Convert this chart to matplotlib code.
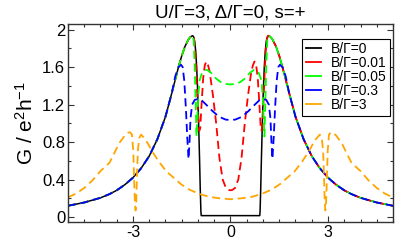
import matplotlib
matplotlib.use("Agg")
import matplotlib.pyplot as plt
from matplotlib.lines import Line2D
from matplotlib import ticker

plt.rcParams['font.family'] = ['Liberation Sans', 'DejaVu Sans']
plt.rcParams['mathtext.fontset'] = 'custom'
plt.rcParams['mathtext.rm'] = 'Liberation Sans'
plt.rcParams['mathtext.it'] = 'Liberation Sans'
plt.rcParams['axes.unicode_minus'] = False

title = "U/Γ=3, Δ/Γ=0, s=+"
labels = ["B/Γ=0", "B/Γ=0.01", "B/Γ=0.05", "B/Γ=0.3", "B/Γ=3"]
colors = ["black", "#ff0000", "#00ff00", "#0000ff", "#ffa500"]

x_b0 = [-5, -4.5, -4, -3.72, -3.5, -3.25, -3, -2.75, -2.5, -2.25, -2, -1.8, -1.6, -1.5, -1.4, -1.3, -1.25, -1.2, -1.16,
        -1.13, -1.1, -1.07, -1.04, -1.01, -0.98, -0.95, -0.93, -0.91, -0.9,
        0.9, 0.91, 0.93, 0.95, 0.98, 1.01, 1.04, 1.07, 1.1, 1.13,
        1.16, 1.2, 1.25, 1.3, 1.4, 1.5, 1.6, 1.8, 2, 2.25, 2.5, 2.75, 3, 3.25, 3.5, 3.72, 4, 4.5, 5]
g_b0 = [0.12, 0.155, 0.205, 0.245, 0.285, 0.345, 0.42, 0.52, 0.65, 0.83, 1.07, 1.33, 1.6, 1.72, 1.82, 1.89, 1.915, 1.93, 1.935,
        1.92, 1.87, 1.77, 1.6, 1.35, 1.0, 0.6, 0.3, 0.06, 0.015,
        0.015, 0.06, 0.3, 0.6, 1.0, 1.35, 1.6, 1.77, 1.87, 1.92,
        1.935, 1.93, 1.915, 1.89, 1.82, 1.72, 1.6, 1.33, 1.07, 0.83, 0.65, 0.52, 0.42, 0.345, 0.285, 0.245, 0.205, 0.155, 0.12]

x_b001 = [-5, -4.5, -4, -3.72, -3.5, -3.25, -3, -2.75, -2.5, -2.25, -2, -1.8, -1.6, -1.5, -1.4, -1.3, -1.25, -1.2, -1.16,
          -1.12, -1.08, -1.04, -1.0, -0.96, -0.93, -0.89, -0.84, -0.79, -0.74, -0.69, -0.64, -0.54, -0.44, -0.34, -0.24, -0.14, -0.06, 0,
          0.06, 0.14, 0.24, 0.34, 0.44, 0.54, 0.64, 0.69, 0.74, 0.79, 0.84, 0.89, 0.93, 0.96, 1.0, 1.04, 1.08, 1.12,
          1.16, 1.2, 1.25, 1.3, 1.4, 1.5, 1.6, 1.8, 2, 2.25, 2.5, 2.75, 3, 3.25, 3.5, 3.72, 4, 4.5, 5]
g_b001 = [0.12, 0.155, 0.205, 0.245, 0.285, 0.345, 0.42, 0.52, 0.65, 0.83, 1.07, 1.33, 1.6, 1.72, 1.82, 1.89, 1.915, 1.93, 1.935,
          1.9, 1.75, 1.45, 1.1, 0.92, 0.95, 1.2, 1.48, 1.62, 1.66, 1.62, 1.55, 1.3, 1.0, 0.63, 0.40, 0.31, 0.29, 0.285,
          0.29, 0.31, 0.40, 0.63, 1.0, 1.3, 1.55, 1.62, 1.66, 1.62, 1.48, 1.2, 0.95, 0.92, 1.1, 1.45, 1.75, 1.9,
          1.935, 1.93, 1.915, 1.89, 1.82, 1.72, 1.6, 1.33, 1.07, 0.83, 0.65, 0.52, 0.42, 0.345, 0.285, 0.245, 0.205, 0.155, 0.12]

x_b005 = [-5, -4.5, -4, -3.72, -3.5, -3.25, -3, -2.75, -2.5, -2.25, -2, -1.8, -1.6, -1.5, -1.4, -1.3, -1.25, -1.2, -1.16,
          -1.13, -1.1, -1.07, -1.045, -1.02, -0.99, -0.95, -0.88, -0.8, -0.72, -0.6, -0.45, -0.3, -0.15, 0,
          0.15, 0.3, 0.45, 0.6, 0.72, 0.8, 0.88, 0.95, 0.99, 1.02, 1.045, 1.07, 1.1, 1.13,
          1.16, 1.2, 1.25, 1.3, 1.4, 1.5, 1.6, 1.8, 2, 2.25, 2.5, 2.75, 3, 3.25, 3.5, 3.72, 4, 4.5, 5]
g_b005 = [0.12, 0.155, 0.205, 0.245, 0.285, 0.345, 0.42, 0.52, 0.65, 0.83, 1.07, 1.33, 1.6, 1.72, 1.82, 1.89, 1.915, 1.93, 1.935,
          1.88, 1.6, 1.2, 0.86, 1.05, 1.3, 1.46, 1.53, 1.565, 1.57, 1.54, 1.48, 1.44, 1.42, 1.415,
          1.42, 1.44, 1.48, 1.54, 1.57, 1.565, 1.53, 1.46, 1.3, 1.05, 0.86, 1.2, 1.6, 1.88,
          1.935, 1.93, 1.915, 1.89, 1.82, 1.72, 1.6, 1.33, 1.07, 0.83, 0.65, 0.52, 0.42, 0.345, 0.285, 0.245, 0.205, 0.155, 0.12]

x_b03 = [-5, -4.5, -4, -3.72, -3.5, -3.25, -3, -2.75, -2.5, -2.25, -2, -1.8,
         -1.7, -1.6, -1.52, -1.47, -1.42, -1.37, -1.33, -1.29, -1.26, -1.23, -1.18, -1.1, -1.0, -0.9, -0.75, -0.55, -0.35, -0.15, 0,
         0.15, 0.35, 0.55, 0.75, 0.9, 1.0, 1.1, 1.18, 1.23, 1.26, 1.29, 1.33, 1.37, 1.42, 1.47, 1.52, 1.6, 1.7,
         1.8, 2, 2.25, 2.5, 2.75, 3, 3.25, 3.5, 3.72, 4, 4.5, 5]
g_b03 = [0.12, 0.155, 0.205, 0.245, 0.285, 0.345, 0.42, 0.52, 0.65, 0.83, 1.07, 1.33,
         1.5, 1.6, 1.625, 1.6, 1.45, 1.15, 0.85, 0.62, 0.8, 1.05, 1.2, 1.25, 1.26, 1.25, 1.2, 1.13, 1.07, 1.04, 1.035,
         1.04, 1.07, 1.13, 1.2, 1.25, 1.26, 1.25, 1.2, 1.05, 0.8, 0.62, 0.85, 1.15, 1.45, 1.6, 1.625, 1.6, 1.5,
         1.33, 1.07, 0.83, 0.65, 0.52, 0.42, 0.345, 0.285, 0.245, 0.205, 0.155, 0.12]

x_b3 = [-5, -4.75, -4.5, -4.25, -4, -3.72, -3.42, -3.25, -3.15, -3.09, -3.03, -2.99, -2.96, -2.94, -2.92, -2.9, -2.88, -2.85,
        -2.81, -2.75, -2.6, -2.39, -2.2, -1.98, -1.75, -1.52, -1.25, -0.95, -0.65, -0.34, 0,
        0.34, 0.65, 0.95, 1.25, 1.52, 1.75, 1.98, 2.2, 2.39, 2.6, 2.75, 2.81,
        2.85, 2.88, 2.9, 2.92, 2.94, 2.96, 2.99, 3.03, 3.09, 3.15, 3.25, 3.42, 3.72, 4, 4.25, 4.5, 4.75, 5]
g_b3 = [0.21, 0.25, 0.31, 0.39, 0.49, 0.58, 0.79, 0.87, 0.9, 0.905, 0.88, 0.7, 0.35, 0.15, 0.07, 0.15, 0.4, 0.7,
        0.84, 0.88, 0.82, 0.69, 0.59, 0.49, 0.42, 0.35, 0.29, 0.245, 0.215, 0.2, 0.19,
        0.2, 0.215, 0.245, 0.29, 0.35, 0.42, 0.49, 0.59, 0.69, 0.82, 0.88, 0.84,
        0.7, 0.4, 0.15, 0.07, 0.15, 0.35, 0.7, 0.88, 0.905, 0.9, 0.87, 0.79, 0.58, 0.49, 0.39, 0.31, 0.25, 0.21]

x_ticks = [-3, 0, 3]
y_ticks = [0, 0.4, 0.8, 1.2, 1.6, 2]

fig = plt.figure(figsize=(3.95, 2.4), dpi=100)
ax = fig.add_axes([0.172, 0.075, 0.823, 0.825])

series = [(x_b0, g_b0), (x_b001, g_b001), (x_b005, g_b005), (x_b03, g_b03), (x_b3, g_b3)]
for i, ((xs, gs), c) in enumerate(zip(series, colors)):
    if i == 0:
        ax.plot(xs, gs, color=c, lw=1.1, solid_joinstyle='round')
    else:
        ax.plot(xs, gs, color=c, lw=1.3, linestyle=(0, (4.5, 2.6)))

ax.set_xlim(-5, 5)
ax.set_ylim(-0.053, 2.06)
ax.set_xticks(x_ticks)
ax.set_yticks(y_ticks)
ax.xaxis.set_minor_locator(ticker.MultipleLocator(0.5))
ax.yaxis.set_minor_locator(ticker.MultipleLocator(0.2))
ax.xaxis.set_major_formatter(ticker.FormatStrFormatter('%g'))
ax.yaxis.set_major_formatter(ticker.FormatStrFormatter('%g'))
ax.tick_params(which='both', direction='in', top=True, right=True, width=0.8, colors='#333333', labelcolor='black')
ax.tick_params(which='major', length=4.5)
ax.tick_params(which='minor', length=2.3)
ax.tick_params(axis='y', pad=2, labelsize=12)
ax.tick_params(axis='x', pad=2, labelsize=11.5)
for s in ax.spines.values():
    s.set_linewidth(1.0)
    s.set_color('#333333')

ax.set_title(title, fontsize=13.5, pad=5)
ax.set_ylabel(r'G / e$^{2}$h$^{-1}$', fontsize=15, labelpad=4)

handles = [Line2D([0], [0], color=c, lw=1.3) for c in colors]
leg = ax.legend(handles, labels, loc='upper right', bbox_to_anchor=(0.991, 0.925), borderaxespad=0,
                fontsize=10, frameon=True, fancybox=False, edgecolor='black', framealpha=1,
                handlelength=1.1, handletextpad=0.7, labelspacing=0.0, borderpad=0.25)
leg.get_frame().set_linewidth(0.8)

fig.savefig("out.png", dpi=100)
